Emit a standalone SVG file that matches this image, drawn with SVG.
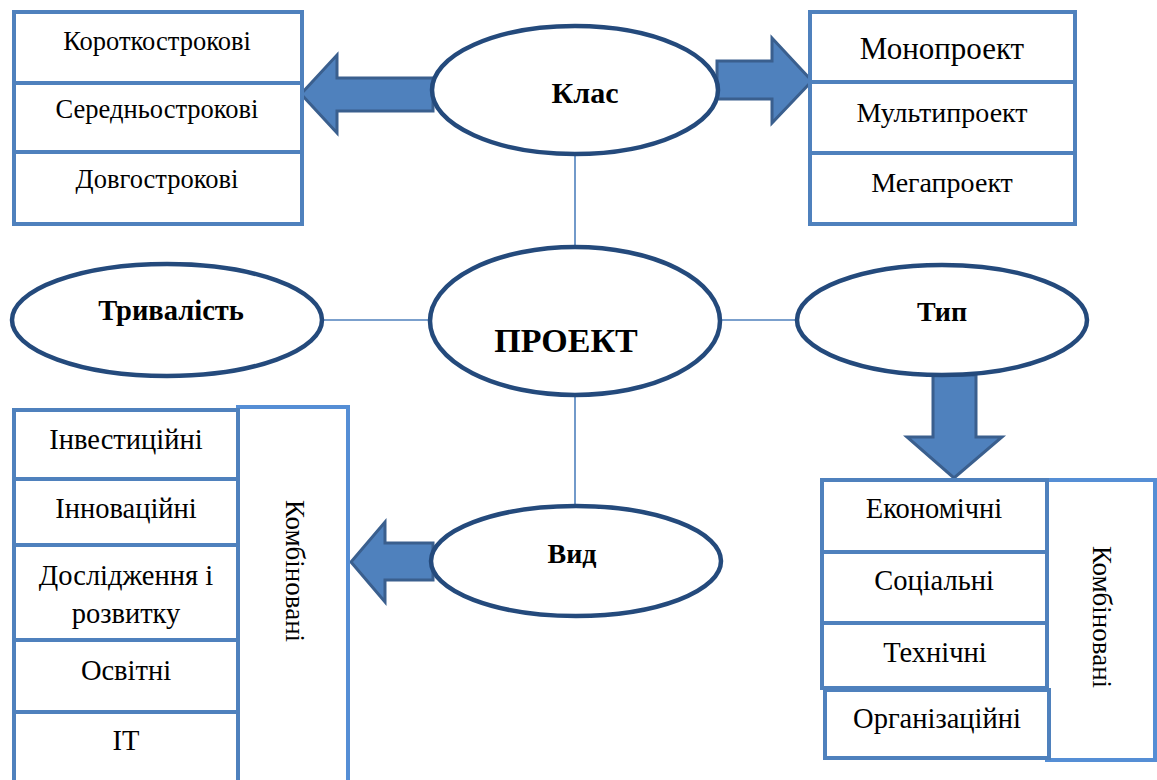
<svg xmlns="http://www.w3.org/2000/svg" width="1157" height="780" viewBox="0 0 1157 780">
<style>
.cell{fill:#fff;stroke:#4f81bd;stroke-width:4}
.comb{fill:#fff;stroke:#558ed5;stroke-width:4}
.ell{fill:#fff;stroke:#244a7c;stroke-width:4.5}
.arr{fill:#4f81bd;stroke:#3a5f8e;stroke-width:3;stroke-linejoin:miter}
.con{stroke:#4f81bd;stroke-width:1.6;fill:none}
.t{font-family:"Liberation Serif","Times New Roman",serif;fill:#000;text-anchor:middle}
.b{font-family:"Liberation Serif","Times New Roman",serif;fill:#000;text-anchor:middle;font-weight:bold}
</style>
<rect width="1157" height="780" fill="#fff"/>

<g id="connectors">
<line class="con" x1="575" y1="154" x2="575" y2="247"/>
<line class="con" x1="575" y1="396" x2="575" y2="506"/>
<line class="con" x1="322" y1="320" x2="430" y2="320"/>
<line class="con" x1="720" y1="320" x2="797" y2="320"/>
<polygon id="arrow-klas-left" class="arr" points="433,78 337,78 337,55 301,94 337,133 337,111 433,111"/>
<polygon id="arrow-klas-right" class="arr" points="717,61 772,61 772,38 812,81 772,123 772,99 717,99"/>
<polygon id="arrow-typ-down" class="arr" points="933,375 976,375 976,437 1002,437 954,478 907,437 933,437"/>
<polygon id="arrow-vyd-left" class="arr" points="433,543 385,543 385,522 351,562 385,602 385,580 433,580"/>
</g>

<g id="duration-list">
<g id="short"><rect class="cell" x="14" y="12" width="288" height="71"/><text class="t" x="157" y="50" font-size="26.5">Короткострокові</text></g>
<g id="medium"><rect class="cell" x="14" y="83" width="288" height="69"/><text class="t" x="157" y="118" font-size="26.5">Середньострокові</text></g>
<g id="long"><rect class="cell" x="14" y="152" width="288" height="72"/><text class="t" x="157" y="188" font-size="26.5">Довгострокові</text></g>
</g>

<g id="class-list">
<g id="mono"><rect class="cell" x="810" y="12" width="265" height="70"/><text class="t" x="942" y="59" font-size="31">Монопроект</text></g>
<g id="multi"><rect class="cell" x="810" y="82" width="265" height="71"/><text class="t" x="942" y="122" font-size="28">Мультипроект</text></g>
<g id="mega"><rect class="cell" x="810" y="153" width="265" height="71"/><text class="t" x="942" y="192" font-size="28">Мегапроект</text></g>
</g>

<g id="klas"><ellipse class="ell" cx="575" cy="90" rx="143" ry="64"/><text class="b" x="585" y="103" font-size="30">Клас</text></g>
<g id="project"><ellipse class="ell" cx="575" cy="321" rx="145" ry="74"/><text class="b" x="566" y="352" font-size="34">ПРОЕКТ</text></g>
<g id="duration"><ellipse class="ell" cx="167" cy="320" rx="155" ry="56"/><text class="b" x="171" y="320" font-size="28.5">Тривалість</text></g>
<g id="type"><ellipse class="ell" cx="942" cy="320" rx="145" ry="55"/><text class="b" x="942" y="321" font-size="28">Тип</text></g>
<g id="kind"><ellipse class="ell" cx="576" cy="561" rx="145" ry="55"/><text class="b" x="572" y="563" font-size="28">Вид</text></g>

<g id="kind-list">
<g id="combined-left"><rect class="comb" x="238" y="407" width="110" height="375"/><text class="t" font-size="27" transform="translate(286,571) rotate(90)">Комбіновані</text></g>
<g id="invest"><rect class="cell" x="14" y="410" width="224" height="69"/><text class="t" x="126" y="449" font-size="28.5">Інвестиційні</text></g>
<g id="innov"><rect class="cell" x="14" y="479" width="224" height="66"/><text class="t" x="126" y="518" font-size="28.5">Інноваційні</text></g>
<g id="research"><rect class="cell" x="14" y="545" width="224" height="95"/><text class="t" x="126" y="585" font-size="28.5">Дослідження і</text><text class="t" x="126" y="623" font-size="28.5">розвитку</text></g>
<g id="edu"><rect class="cell" x="14" y="640" width="224" height="72"/><text class="t" x="126" y="680" font-size="28.5">Освітні</text></g>
<g id="it"><rect class="cell" x="14" y="712" width="224" height="70"/><text class="t" x="126" y="750" font-size="28.5">ІТ</text></g>
</g>

<g id="type-list">
<g id="combined-right"><rect class="comb" x="1047" y="480" width="108" height="280"/><text class="t" font-size="27" transform="translate(1093,617) rotate(90)">Комбіновані</text></g>
<g id="econ"><rect class="cell" x="822" y="480" width="225" height="72"/><text class="t" x="934" y="518" font-size="28.5">Економічні</text></g>
<g id="social"><rect class="cell" x="822" y="552" width="225" height="71"/><text class="t" x="934" y="590" font-size="28.5">Соціальні</text></g>
<g id="tech"><rect class="cell" x="822" y="623" width="225" height="65"/><text class="t" x="935" y="662" font-size="28.5">Технічні</text></g>
<g id="org"><rect class="cell" x="825" y="690" width="224" height="68"/><text class="t" x="937" y="728" font-size="28.5">Організаційні</text></g>
</g>
</svg>
